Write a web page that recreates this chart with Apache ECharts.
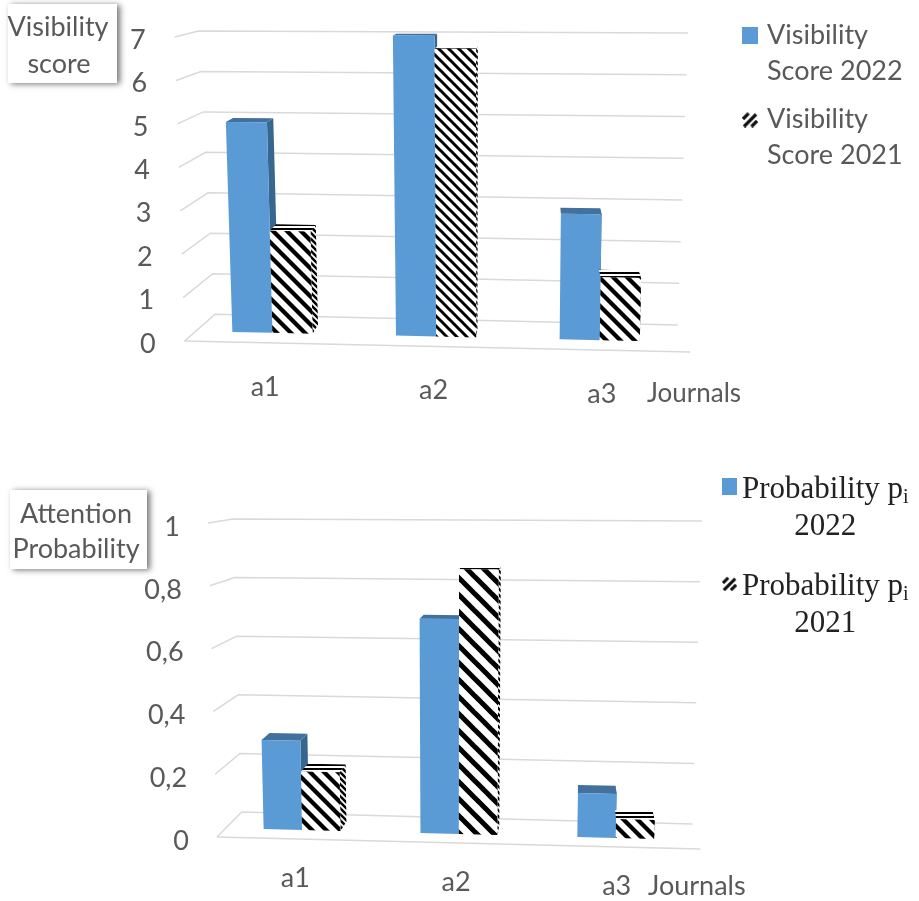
<!DOCTYPE html>
<html>
<head>
<meta charset="utf-8">
<style>html,body{margin:0;padding:0;background:#fff}#chart{width:919px;height:901px}</style>
<script src="https://cdn.jsdelivr.net/npm/echarts@6/dist/echarts.min.js"></script>
</head>
<body>
<div id="chart"></div>
<script>
// data
const categories = ['a1', 'a2', 'a3'];
const xAxisName = 'Journals';

const visibilityTicks = [0, 1, 2, 3, 4, 5, 6, 7];
const visibilityTickLabels = ['0', '1', '2', '3', '4', '5', '6', '7'];
const visibility2022 = [4.95, 7, 2.9];
const visibility2021 = [2.4, 6.7, 1.45];

const probabilityTicks = [0, 0.2, 0.4, 0.6, 0.8, 1];
const probabilityTickLabels = ['0', '0,2', '0,4', '0,6', '0,8', '1'];
const probability2022 = [0.29, 0.69, 0.14];
const probability2021 = [0.19, 0.85, 0.06];

const BLUE = '#5b9bd5', BLUE_TOP = '#41719c', BLUE_SIDE = '#37668f';
const TEXT = '#595959';
const WALL = '#d9d9d9';
const SANS = 'Lato';
const SERIF = 'Liberation Serif';

function hatchTile(step, lineW) {
  const c = document.createElement('canvas');
  c.width = step; c.height = step;
  const g = c.getContext('2d');
  g.fillStyle = '#fff';
  g.fillRect(0, 0, step, step);
  g.strokeStyle = '#000';
  g.lineWidth = lineW;
  for (let i = -1; i <= 1; i++) {
    g.beginPath();
    g.moveTo(i * step - 2, -2);
    g.lineTo(i * step + step + 2, step + 2);
    g.stroke();
  }
  return c;
}

function stripeTile(step) {
  const c = document.createElement('canvas');
  c.width = 4; c.height = step;
  const g = c.getContext('2d');
  g.fillStyle = '#fff';
  g.fillRect(0, 0, 4, step);
  g.fillStyle = '#000';
  g.fillRect(0, 0, 4, Math.ceil(step / 2));
  return c;
}

function pattern(tile) {
  return { image: tile, repeat: 'repeat' };
}

// small "//" marker for the legends
function legendHatchIcon() {
  const c = document.createElement('canvas');
  c.width = 17; c.height = 17;
  const g = c.getContext('2d');
  g.strokeStyle = '#111';
  g.lineWidth = 3.5;
  [[1, 8, 7, 2], [2, 16, 15, 3], [10, 16, 16, 10]].forEach(function (s) {
    g.beginPath();
    g.moveTo(s[0], s[1]);
    g.lineTo(s[2], s[3]);
    g.stroke();
  });
  return 'image://' + c.toDataURL();
}

const lerp = (a, b, t) => a + (b - a) * t;

// the original is a tilted 3D column chart: grid pixels are bent onto the wall and floor
function makeScene(conf) {
  return function (p, depth) {
    const u = (p[0] - conf.rect.left) / conf.rect.width;
    const t = (p[1] - conf.rect.top) / conf.rect.height;
    const x = lerp(lerp(conf.tl[0], conf.tr[0], u), lerp(conf.bl[0], conf.br[0], u), t);
    const y = lerp(lerp(conf.tl[1], conf.tr[1], u), lerp(conf.bl[1], conf.br[1], u), t);
    const ox = lerp(conf.oxLeft[0], conf.oxLeft[1], t);
    const dx = lerp(ox, lerp(conf.oxRight[0], conf.oxRight[1], t), u);
    const dy = lerp(conf.oyTop, conf.oyBottom, t);
    return [x + dx * depth, y + dy * depth];
  };
}

const charts = [
  {
    rect: { left: 198, top: 31, width: 490, height: 284 },
    tl: [195, 31], tr: [684, 33], bl: [207, 314], br: [674, 325],
    oxLeft: [-24, -26], oxRight: [8, 12], oyTop: 6, oyBottom: 27,
    front: 0.63, back: 0.3,
    uLeft: 0.007, cornerShift: 5, uRight: 1.008, uFront: 1.008,
    tickGap: 29, tickDrop: 3, labelDrop: 44, axisMax: 7,
    ticks: visibilityTicks, tickLabels: visibilityTickLabels,
    hatch: [14, 10, 14]
  },
  {
    rect: { left: 232, top: 519, width: 470, height: 293 },
    tl: [231, 519], tr: [698, 521], bl: [239, 812], br: [689, 824],
    oxLeft: [-25, -24], oxRight: [8, 8], oyTop: 4, oyBottom: 25,
    front: 0.64, back: 0.27,
    uLeft: 0.004, cornerShift: 1, uRight: 1.008, uFront: 1.007,
    tickGap: 28, tickDrop: 4, labelDrop: 39, axisMax: 1,
    ticks: probabilityTicks, tickLabels: probabilityTickLabels,
    hatch: [14, 17, 14]
  }
];

function poly(points, fill) {
  return { type: 'polygon', shape: { points: points }, style: { fill: fill }, silent: true };
}

function wallRender(c) {
  const warp = makeScene(c);
  return function (params, api) {
    const v = api.value(1);
    const leftPx = c.rect.left + c.rect.width * c.uLeft;
    const y = api.coord([0, v])[1];
    const fall = (y - c.rect.top) / c.rect.height;
    const tip = warp([leftPx, y], 1);
    const corner = warp([leftPx + c.cornerShift * fall, y], 0);
    const end = warp([c.rect.left + c.rect.width * c.uRight, y], 0);
    const lineStyle = { stroke: WALL, lineWidth: 1.5, fill: null };
    const children = [
      { type: 'polyline', shape: { points: [tip, corner, end] }, style: lineStyle, silent: true },
      {
        type: 'text', silent: true, x: tip[0] - c.tickGap, y: tip[1] + c.tickDrop,
        style: {
          text: c.tickLabels[params.dataIndex], fill: TEXT, font: '27px ' + SANS,
          align: 'right', verticalAlign: 'middle'
        }
      }
    ];
    if (v === 0) {
      const endFront = warp([c.rect.left + c.rect.width * c.uFront, y], 1);
      children.push({ type: 'line', shape: { x1: tip[0], y1: tip[1], x2: endFront[0], y2: endFront[1] }, style: lineStyle, silent: true });
    }
    return { type: 'group', children: children };
  };
}

function categoryLabelRender(c) {
  const warp = makeScene(c);
  return function (params, api) {
    const p = warp(api.coord([api.value(0), 0]), 1);
    return {
      type: 'text', silent: true, x: p[0], y: p[1] + c.labelDrop,
      style: { text: categories[params.dataIndex], fill: TEXT, font: '27px ' + SANS, align: 'center', verticalAlign: 'middle' }
    };
  };
}

// side: -1 draws left of the category centre, 1 right of it
function barRender(c, side, faces) {
  const warp = makeScene(c);
  return function (params, api) {
    const cat = api.value(0);
    const base = api.coord([cat, 0]);
    const top = api.coord([cat, api.value(1)]);
    const w = api.size([1, 0])[0] * 0.245;
    const x0 = side < 0 ? base[0] - w : base[0];
    const x1 = side < 0 ? base[0] : base[0] + w;
    const f = faces(cat);
    const fbl = warp([x0, base[1]], c.front), fbr = warp([x1, base[1]], c.front);
    const ftl = warp([x0, top[1]], c.front), ftr = warp([x1, top[1]], c.front);
    const bbr = warp([x1, base[1]], c.back);
    const btl = warp([x0, top[1]], c.back), btr = warp([x1, top[1]], c.back);
    return {
      type: 'group',
      children: [
        poly([fbr, ftr, btr, bbr], f.side),
        poly([ftl, ftr, btr, btl], f.top),
        poly([fbl, fbr, ftr, ftl], f.front)
      ]
    };
  };
}

function blueFaces() {
  return { front: BLUE, top: BLUE_TOP, side: BLUE_SIDE };
}

function hatchFaces(c) {
  const topTile = pattern(stripeTile(4));
  const sideTile = pattern(hatchTile(6, 2.5));
  return function (cat) {
    const step = c.hatch[cat];
    return { front: pattern(hatchTile(step, step * 0.3)), top: topTile, side: sideTile };
  };
}

const names = {
  vis22: 'Visibility\nScore 2022',
  vis21: 'Visibility\nScore 2021',
  prob22: 'Probability pi 2022',
  prob21: 'Probability pi 2021'
};

function buildSeries(c, i, name22, name21, values22, values21) {
  return [
    {
      type: 'custom', name: 'wall' + i, xAxisIndex: i, yAxisIndex: i, z: 1, silent: true,
      clip: false, renderItem: wallRender(c),
      data: c.ticks.map(v => [0, v])
    },
    {
      type: 'custom', name: 'cats' + i, xAxisIndex: i, yAxisIndex: i, z: 1, silent: true,
      clip: false, renderItem: categoryLabelRender(c),
      data: categories.map((n, k) => [k, 0])
    },
    {
      type: 'custom', name: name22, xAxisIndex: i, yAxisIndex: i, z: 2, silent: true,
      clip: false, itemStyle: { color: BLUE }, renderItem: barRender(c, -1, blueFaces),
      data: values22.map((v, k) => [k, v])
    },
    {
      type: 'custom', name: name21, xAxisIndex: i, yAxisIndex: i, z: 3, silent: true,
      clip: false, itemStyle: { color: '#000' }, renderItem: barRender(c, 1, hatchFaces(c)),
      data: values21.map((v, k) => [k, v])
    }
  ];
}

function labelBox(x, y, w, h, lines) {
  return {
    type: 'group',
    children: [
      {
        type: 'rect', shape: { x: x, y: y, width: w, height: h },
        style: { fill: '#fff', shadowColor: 'rgba(0,0,0,0.55)', shadowBlur: 6, shadowOffsetX: 3, shadowOffsetY: 1 }
      }
    ].concat(lines.map(l => ({
      type: 'text', x: l.x, y: l.y,
      style: { text: l.text, fill: TEXT, font: '27px ' + SANS, align: 'center', verticalAlign: 'middle' }
    })))
  };
}

const icon = legendHatchIcon();
const chart = echarts.init(document.getElementById('chart'));

chart.setOption({
  animation: false,
  backgroundColor: '#fff',
  grid: charts.map(c => Object.assign({}, c.rect)),
  xAxis: charts.map((c, i) => ({ type: 'category', gridIndex: i, data: categories, show: false })),
  yAxis: charts.map((c, i) => ({ type: 'value', gridIndex: i, min: 0, max: c.axisMax, show: false })),
  legend: [
    {
      orient: 'vertical', left: 742, top: -14, padding: 0, itemWidth: 16, itemHeight: 17, itemGap: -15,
      selectedMode: false,
      data: [{ name: names.vis22, icon: 'rect' }, { name: names.vis21, icon: icon }],
      // leading empty line keeps the marker level with the first text line
      formatter: name => '{e| }\n{v|' + name.replace('\n', '}\n{v|') + '}',
      textStyle: {
        rich: {
          e: { fontFamily: SANS, fontSize: 27, lineHeight: 36 },
          v: { color: TEXT, fontFamily: SANS, fontSize: 27, lineHeight: 36, padding: [0, 0, 0, 4] }
        }
      }
    },
    {
      orient: 'vertical', left: 722, top: 434, padding: 0, itemWidth: 15, itemHeight: 17, itemGap: -11,
      selectedMode: false,
      data: [{ name: names.prob22, icon: 'rect' }, { name: names.prob21, icon: icon }],
      formatter: function (name) {
        const year = name.slice(-4);
        return '{e| }\n{t|Probability p}{s|i}\n{y|' + year + '}';
      },
      textStyle: {
        rich: {
          e: { fontFamily: SERIF, fontSize: 31, lineHeight: 43 },
          t: { color: '#222', fontFamily: SERIF, fontSize: 31, lineHeight: 37 },
          s: { color: '#222', fontFamily: SERIF, fontSize: 20, lineHeight: 37, verticalAlign: 'bottom' },
          y: { color: '#222', fontFamily: SERIF, fontSize: 31, lineHeight: 37, align: 'center' }
        }
      }
    }
  ],
  graphic: [
    labelBox(8, 4, 109, 79, [{ text: 'Visibility', x: 58, y: 27 }, { text: 'score', x: 59, y: 64 }]),
    labelBox(10, 490, 137, 79, [{ text: 'Attention', x: 76, y: 514 }, { text: 'Probability', x: 76, y: 549 }]),
    { type: 'text', x: 647, y: 394, style: { text: xAxisName, fill: TEXT, font: '26px ' + SANS, align: 'left', verticalAlign: 'middle' } },
    { type: 'text', x: 648, y: 886, style: { text: xAxisName, fill: TEXT, font: '27px ' + SANS, align: 'left', verticalAlign: 'middle' } }
  ],
  series: buildSeries(charts[0], 0, names.vis22, names.vis21, visibility2022, visibility2021)
    .concat(buildSeries(charts[1], 1, names.prob22, names.prob21, probability2022, probability2021))
});
</script>
</body>
</html>
